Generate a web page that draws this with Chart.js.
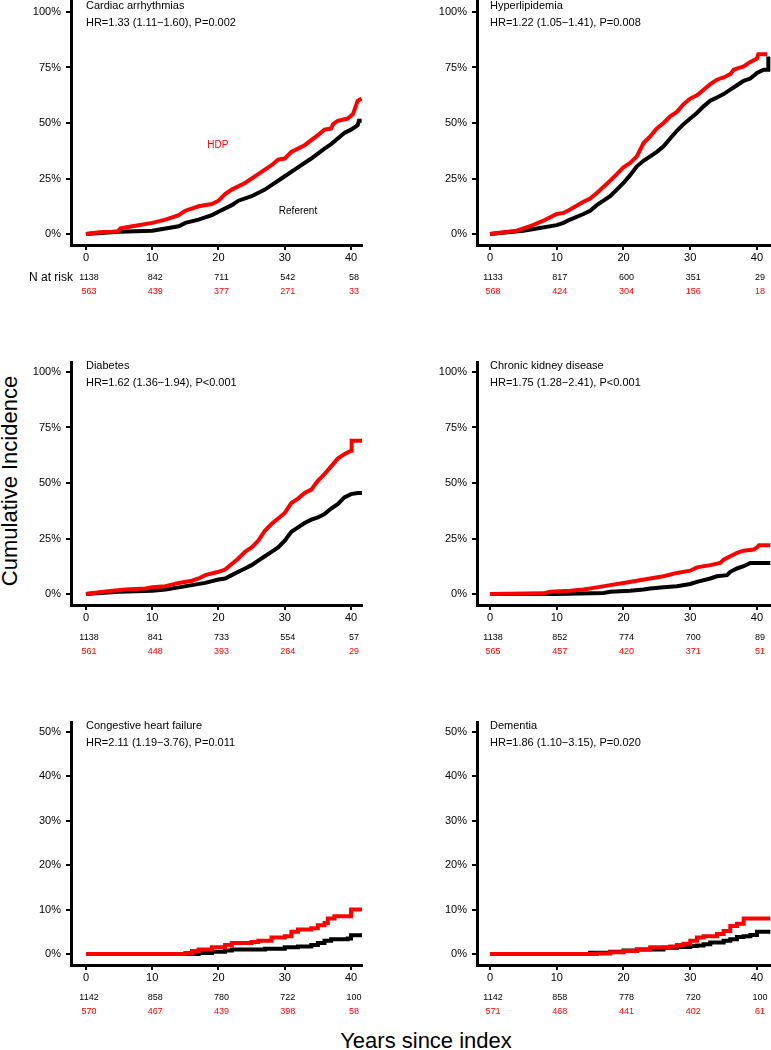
<!DOCTYPE html>
<html>
<head>
<meta charset="utf-8">
<script src="https://cdn.jsdelivr.net/npm/chart.js@4/dist/chart.umd.min.js"></script>
<style>
  body { margin: 0; background: #fff; }
  #page { position: relative; width: 771px; height: 1050px; overflow: hidden; font-family: "Liberation Sans", Arial, sans-serif; }
  canvas { position: absolute; }
  .big { position: absolute; font-size: 22px; color: #000; white-space: nowrap; }
</style>
</head>
<body>
<div id="page">
  <div class="big" id="ylab" style="left:10px; top:481px; transform: translate(-50%, -50%) rotate(-90deg);">Cumulative Incidence</div>
  <div class="big" id="xlab" style="left:426px; top:1041px; transform: translate(-50%, -50%);">Years since index</div>
</div>
<script>
// panel titles and hazard ratios
const titles = ['Cardiac arrhythmias', 'Hyperlipidemia', 'Diabetes', 'Chronic kidney disease', 'Congestive heart failure', 'Dementia'];
const hrTexts = [
    'HR=1.33 (1.11\u22121.60), P=0.002',
    'HR=1.22 (1.05\u22121.41), P=0.008',
    'HR=1.62 (1.36\u22121.94), P<0.001',
    'HR=1.75 (1.28\u22122.41), P<0.001',
    'HR=2.11 (1.19\u22123.76), P=0.011',
    'HR=1.86 (1.10\u22123.15), P=0.020'
];

// x ticks / risk table times
const riskTimes = [0, 10, 20, 30, 40];
const yTicksTall = [0, 25, 50, 75, 100];
const yTicksShort = [0, 10, 20, 30, 40, 50];

// numbers at risk (referent, HDP)
const cardiacRiskRef = [1138, 842, 711, 542, 58];
const cardiacRiskHdp = [563, 439, 377, 271, 33];
const hyperRiskRef = [1133, 817, 600, 351, 29];
const hyperRiskHdp = [568, 424, 304, 156, 18];
const diabetesRiskRef = [1138, 841, 733, 554, 57];
const diabetesRiskHdp = [561, 448, 393, 264, 29];
const ckdRiskRef = [1138, 852, 774, 700, 89];
const ckdRiskHdp = [565, 457, 420, 371, 51];
const chfRiskRef = [1142, 858, 780, 722, 100];
const chfRiskHdp = [570, 467, 439, 398, 58];
const dementiaRiskRef = [1142, 858, 778, 720, 100];
const dementiaRiskHdp = [571, 468, 441, 402, 61];

// cumulative incidence curves [years, %]
const cardiacHdp = [[0,0],[2,0.8],[4,1],[4.8,1.2],[5.2,2.5],[7,3.5],[10,5],[12,6.5],[14,8.5],[15,10.5],[17,12.5],[19,13.5],[20,15],[21,18],[22,20],[24,23],[26,27],[28,31],[29,33.5],[30,34],[31,37],[33,40],[35,44.5],[36,47],[37,47.5],[37.3,49.5],[38,51],[39.5,52],[40.3,54],[41,60],[41.6,61]];
const cardiacRef = [[0,0],[5,1],[10,1.5],[12,2.5],[14,3.5],[15,5],[17,6.5],[19,8.5],[20,10],[22,13],[23,15],[25,17],[27,20],[28,22],[29,24],[30,26],[32,30],[34,34],[36,38.5],[37,40.5],[38,43],[39,45.5],[40,47],[41,49],[41.2,51],[41.6,51]];
const hyperHdp = [[0,0],[2,0.8],[4,1.5],[5,2.5],[6,3.5],[8,6],[10,9],[11,9.5],[12,11],[14,14.5],[15,16],[16,18.5],[18,24],[19,27],[20,30],[21,32],[22,35],[23,41],[24,44],[25,47.5],[26,50],[27,53],[28,55],[29,58.5],[30,61],[31,62.5],[32,65],[33,67.5],[34,69.5],[35,70.5],[36,72],[36.5,74],[38,75.5],[39,77.5],[40,79],[40.2,81],[41.5,81]];
const hyperRef = [[0,0],[5,1.5],[7,2.5],[10,4],[11,5],[12,6.5],[14,9],[15,10.5],[16,13],[18,17],[19,20],[20,23],[21,26.5],[22,30.5],[23,33],[24,35],[25,37],[26,39.5],[27,43],[28,46.5],[29,49.5],[30,52],[31,54.5],[32,57.5],[33,60],[34,61.5],[35,63],[36,65],[37,67],[38,69],[39,70],[40,72.5],[41,74],[41.7,74],[41.7,80]];
const diabetesHdp = [[0,0],[2,0.8],[4,1.5],[6,2],[9,2.5],[10,3],[12,3.5],[14,5],[16,6],[17,7],[18,8.5],[20,10],[21,11],[22,13.5],[23,16],[24,19],[25,21],[26,24],[27,28.5],[28,31.5],[29,34],[30,36.5],[31,41],[32,43],[33,45.5],[34,47],[35,51],[36,54],[37,57.5],[38,61],[39,63],[40,64.5],[40.1,69],[41.7,69]];
const diabetesRef = [[0,0],[5,1],[10,1.5],[12,2],[14,3],[16,4],[18,5],[20,6.5],[21,7],[22,8.5],[23,10],[24,11.5],[25,13],[26,15],[27,17],[28,19],[29,21],[30,24],[31,28],[32,30],[33,32],[34,33.5],[35,34.5],[36,36],[37,38.5],[38,40.5],[39,43.5],[40,45],[41,45.5],[41.7,45.5]];
const ckdHdp = [[0,0],[8,0.3],[9,1],[12,1.5],[14,2],[16,3],[18,4],[20,5],[22,6],[24,7],[26,8],[28,9.5],[30,10.5],[31,12],[33,13],[34.5,14],[35,15.5],[36,17],[37,18.5],[38,19.5],[39.5,20],[40,21],[40.3,22],[42,22]];
const ckdRef = [[0,0],[10,0],[17,0.5],[18,1],[21,1.5],[23,2],[24,2.5],[26,3],[28,3.5],[30,4.5],[31,5.5],[33,7],[34,8],[35.5,8.5],[36,10],[37,11.5],[38,12.5],[39,14],[42,14]];
const chfHdp = [[0,0],[13,0],[15,0.2],[16,0.7],[17,1],[19,1.5],[21,2],[22,2.5],[25,2.7],[26,3],[28,3.7],[30,4],[31,5],[32,5.5],[34,5.8],[35,6.5],[36,7],[36.5,8],[37.5,8.5],[40,10],[41.7,10]];
const chfRef = [[0,0],[14,0],[17,0.2],[19,0.5],[21,0.8],[22,1],[27,1.2],[30,1.5],[32,1.7],[34,2],[35,2.5],[36,3],[37,3.3],[39.5,3.5],[40,4.2],[41.7,4.2]];
const dementiaHdp = [[0,0],[16,0.1],[18,0.4],[20,0.7],[22,1],[24,1.5],[27,1.7],[28,2],[29,2.3],[30,3],[31,3.7],[32,4],[34,4.5],[35,5.2],[36,6.3],[37,6.8],[38,8],[42,8]];
const dementiaRef = [[0,0],[15,0.3],[18,0.5],[20,0.8],[22,1],[26,1.4],[28,1.6],[30,1.8],[31,1.9],[32,2.2],[33,2.6],[35,3],[36,3.3],[37,3.8],[38,4],[39,4.3],[40,5],[42,5]];

const FONT = '"Liberation Sans", Arial, sans-serif';
const RED = '#ff0000';

// page geometry of the two columns and three rows
const cols = [
    { left: 0, width: 385, axisW: 71, padRight: 23, xMin: -2.26, xMax: 41.66 },
    { left: 385, width: 386, axisW: 92, padRight: 0, xMin: -1.95, xMax: 42.1 }
];
const rows = [
    { top: -10, height: 320, padTop: 10, xAxisH: 65, yMin: -4.95, yMax: 105.4, ticks: yTicksTall },
    { top: 330, height: 330, padTop: 32, xAxisH: 55, yMin: -4.95, yMax: 104.5, ticks: yTicksTall },
    { top: 690, height: 335, padTop: 32, xAxisH: 60, yMin: -2.48, yMax: 52.25, ticks: yTicksShort, stepped: true }
];

const panels = [
    { col: 0, row: 0, hdp: cardiacHdp, ref: cardiacRef, riskRef: cardiacRiskRef, riskHdp: cardiacRiskHdp, nAtRisk: true,
      notes: [{ text: 'HDP', x: 19.9, y: 40, color: RED }, { text: 'Referent', x: 32, y: 10.4, color: '#000' }] },
    { col: 1, row: 0, hdp: hyperHdp, ref: hyperRef, riskRef: hyperRiskRef, riskHdp: hyperRiskHdp },
    { col: 0, row: 1, hdp: diabetesHdp, ref: diabetesRef, riskRef: diabetesRiskRef, riskHdp: diabetesRiskHdp },
    { col: 1, row: 1, hdp: ckdHdp, ref: ckdRef, riskRef: ckdRiskRef, riskHdp: ckdRiskHdp },
    { col: 0, row: 2, hdp: chfHdp, ref: chfRef, riskRef: chfRiskRef, riskHdp: chfRiskHdp },
    { col: 1, row: 2, hdp: dementiaHdp, ref: dementiaRef, riskRef: dementiaRiskRef, riskHdp: dementiaRiskHdp }
];

// titles, risk table and curve labels drawn against the chart's scales
const panelText = {
    id: 'panelText',
    afterDraw(chart, args, opts) {
        const { ctx } = chart;
        const x = chart.scales.x;
        const y = chart.scales.y;
        const p = opts.panel;
        ctx.save();
        ctx.fillStyle = '#000';
        ctx.textBaseline = 'middle';
        ctx.textAlign = 'left';
        ctx.font = '11px ' + FONT;
        const x0 = x.getPixelForValue(0);
        const yTop = y.getPixelForValue(p.topTick);
        ctx.fillText(p.title, x0, yTop - 6);
        ctx.fillText(p.hr, x0, yTop + 11);

        const base = chart.chartArea.bottom;
        ctx.textAlign = 'center';
        ctx.font = '9px ' + FONT;
        riskTimes.forEach((t, i) => {
            const px = x.getPixelForValue(t) + 3;
            ctx.fillStyle = '#000';
            ctx.fillText(String(p.riskRef[i]), px, base + 33);
            ctx.fillStyle = RED;
            ctx.fillText(String(p.riskHdp[i]), px, base + 47);
        });
        if (p.nAtRisk) {
            ctx.fillStyle = '#000';
            ctx.textAlign = 'right';
            ctx.font = '12px ' + FONT;
            ctx.fillText('N at risk', x0 - 13, base + 33);
        }
        (p.notes || []).forEach(n => {
            ctx.fillStyle = n.color;
            ctx.textAlign = 'center';
            ctx.font = '10px ' + FONT;
            ctx.fillText(n.text, x.getPixelForValue(n.x), y.getPixelForValue(n.y));
        });
        ctx.restore();
    }
};

function axisStyle() {
    return {
        grid: { display: true, drawOnChartArea: false, drawTicks: true, tickLength: 5, tickWidth: 2, tickColor: '#000', lineWidth: 2, color: '#000' },
        border: { display: true, width: 3, color: '#000' }
    };
}

panels.forEach((p, idx) => {
    const c = cols[p.col];
    const r = rows[p.row];
    const canvas = document.createElement('canvas');
    canvas.width = c.width;
    canvas.height = r.height;
    canvas.style.left = c.left + 'px';
    canvas.style.top = r.top + 'px';
    document.getElementById('page').appendChild(canvas);

    const toPts = arr => arr.map(d => ({ x: d[0], y: d[1] }));

    new Chart(canvas.getContext('2d'), {
        type: 'line',
        data: {
            datasets: [
                { label: 'HDP', data: toPts(p.hdp), borderColor: RED, borderWidth: 4, pointRadius: 0, fill: false, tension: 0, stepped: r.stepped ? 'before' : false },
                { label: 'Referent', data: toPts(p.ref), borderColor: '#000', borderWidth: 4, pointRadius: 0, fill: false, tension: 0, stepped: r.stepped ? 'before' : false }
            ]
        },
        options: {
            responsive: false,
            animation: false,
            devicePixelRatio: 1,
            layout: { padding: { top: r.padTop, right: c.padRight, bottom: 0, left: 0 } },
            plugins: {
                legend: { display: false },
                tooltip: { enabled: false },
                panelText: {
                    panel: {
                        title: titles[idx], hr: hrTexts[idx], topTick: r.ticks[r.ticks.length - 1],
                        riskRef: p.riskRef, riskHdp: p.riskHdp, nAtRisk: !!p.nAtRisk, notes: p.notes || []
                    }
                }
            },
            scales: {
                x: {
                    type: 'linear', min: c.xMin, max: c.xMax,
                    ...axisStyle(),
                    afterBuildTicks: s => { s.ticks = riskTimes.map(v => ({ value: v })); },
                    afterFit: s => { s.height = r.xAxisH; s.paddingLeft = 0; s.paddingRight = 0; s.paddingTop = 0; s.paddingBottom = 0; },
                    ticks: { autoSkip: false, maxRotation: 0, padding: 1, color: '#000', font: { family: FONT, size: 11 } }
                },
                y: {
                    type: 'linear', min: r.yMin, max: r.yMax,
                    ...axisStyle(),
                    afterBuildTicks: s => { s.ticks = r.ticks.map(v => ({ value: v })); },
                    afterFit: s => { s.width = c.axisW; s.paddingLeft = 0; s.paddingRight = 0; s.paddingTop = 0; s.paddingBottom = 0; },
                    ticks: { autoSkip: false, padding: 5, color: '#000', font: { family: FONT, size: 11 }, callback: v => v + '%' }
                }
            }
        },
        plugins: [panelText]
    });
});
</script>
</body>
</html>
